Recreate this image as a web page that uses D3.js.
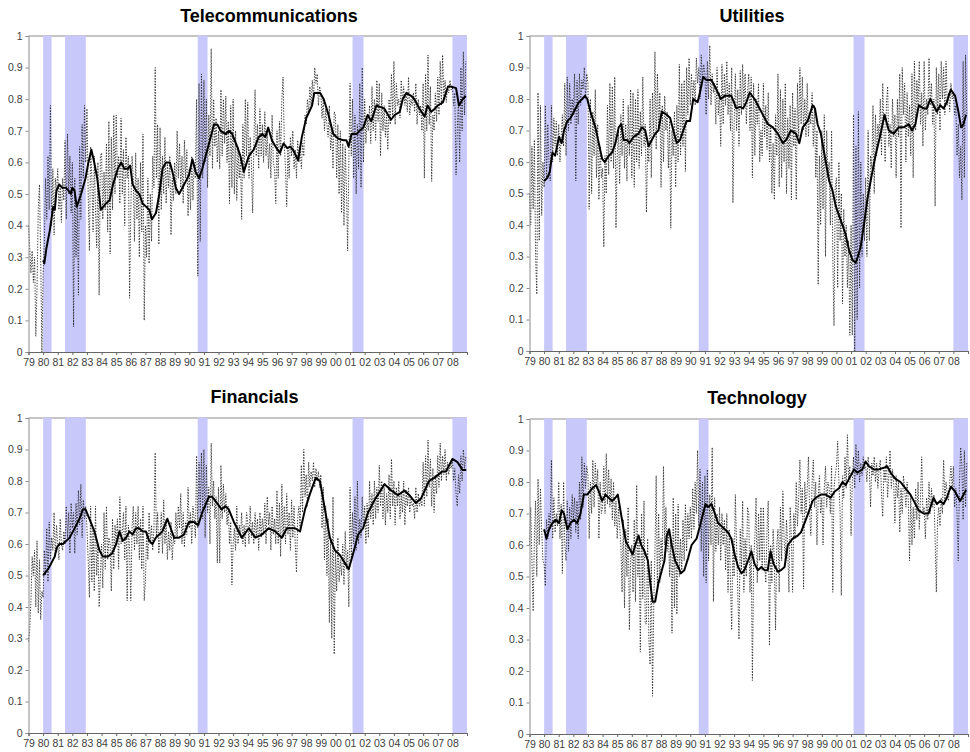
<!DOCTYPE html>
<html lang="en">
<head>
<meta charset="UTF-8">
<title>Sector correlations</title>
<script src="https://d3js.org/d3.v7.min.js"></script>
<style>
  body { margin: 0; background: #fff; }
  text { font-family: "Liberation Sans", Arial, sans-serif; }
</style>
</head>
<body>
<script>
// ---- data ----
const years = d3.range(1979, 2009);            // category years on the x axis
const yTicks = d3.range(0, 11).map(d => d / 10);
const recessions = [[1980.0, 1980.58], [1981.5, 1982.92], [1990.58, 1991.25], [2001.17, 2001.92], [2008.0, 2009.0]];

// monthly values, Jan 1979 .. Dec 2008 (dotted)
const telecomMonthly = [
  0.40,0.33,0.25,0.32,0.22,0.30,0.05,0.20,0.45,0.53,0.30,0.00,
  0.25,0.35,0.55,0.42,0.62,0.45,0.78,0.40,0.58,0.37,0.55,0.50,
  0.58,0.45,0.52,0.41,0.55,0.48,0.67,0.42,0.69,0.50,0.62,0.44,
  0.60,0.08,0.55,0.30,0.47,0.18,0.65,0.42,0.72,0.55,0.78,0.60,
  0.77,0.50,0.32,0.65,0.55,0.38,0.62,0.45,0.33,0.60,0.18,0.62,
  0.63,0.42,0.57,0.45,0.66,0.38,0.73,0.31,0.68,0.45,0.75,0.50,
  0.75,0.55,0.62,0.47,0.74,0.50,0.64,0.40,0.68,0.55,0.62,0.17,
  0.45,0.62,0.55,0.35,0.63,0.42,0.55,0.30,0.60,0.38,0.69,0.10,
  0.40,0.30,0.55,0.28,0.50,0.35,0.62,0.52,0.90,0.55,0.72,0.34,
  0.71,0.45,0.62,0.50,0.68,0.47,0.60,0.52,0.62,0.37,0.55,0.48,
  0.60,0.50,0.70,0.55,0.66,0.52,0.62,0.47,0.67,0.55,0.64,0.43,
  0.58,0.45,0.62,0.48,0.60,0.55,0.80,0.24,0.85,0.35,0.88,0.55,
  0.86,0.60,0.80,0.52,0.75,0.62,0.96,0.58,0.80,0.65,0.74,0.60,
  0.70,0.58,0.83,0.62,0.80,0.66,0.81,0.60,0.73,0.47,0.78,0.52,
  0.80,0.50,0.70,0.48,0.65,0.55,0.62,0.42,0.72,0.55,0.80,0.62,
  0.79,0.55,0.68,0.60,0.44,0.65,0.83,0.62,0.72,0.58,0.77,0.62,
  0.72,0.60,0.76,0.62,0.70,0.58,0.66,0.55,0.75,0.60,0.58,0.47,
  0.70,0.55,0.73,0.62,0.80,0.87,0.66,0.58,0.46,0.65,0.55,0.68,
  0.62,0.70,0.58,0.64,0.55,0.67,0.60,0.65,0.58,0.66,0.62,0.75,
  0.72,0.80,0.75,0.84,0.78,0.86,0.80,0.90,0.85,0.88,0.78,0.84,
  0.82,0.74,0.80,0.70,0.77,0.72,0.68,0.78,0.64,0.70,0.58,0.76,
  0.75,0.55,0.72,0.50,0.70,0.44,0.66,0.40,0.65,0.52,0.32,0.60,
  0.85,0.62,0.80,0.55,0.75,0.50,0.72,0.58,0.85,0.52,0.90,0.60,
  0.80,0.66,0.74,0.70,0.78,0.66,0.84,0.70,0.80,0.67,0.86,0.73,
  0.85,0.62,0.82,0.70,0.78,0.68,0.75,0.64,0.80,0.72,0.88,0.74,
  0.92,0.72,0.85,0.78,0.80,0.74,0.86,0.79,0.84,0.78,0.82,0.76,
  0.87,0.75,0.80,0.78,0.82,0.76,0.85,0.72,0.80,0.75,0.78,0.70,
  0.85,0.55,0.88,0.70,0.94,0.72,0.84,0.54,0.75,0.70,0.82,0.73,
  0.87,0.75,0.92,0.78,0.94,0.80,0.86,0.79,0.84,0.82,0.86,0.83,
  0.84,0.78,0.82,0.56,0.70,0.80,0.60,0.90,0.70,0.95,0.75,0.92
];
const utilitiesMonthly = [
  0.50,0.40,0.65,0.45,0.67,0.30,0.18,0.82,0.35,0.78,0.43,0.60,
  0.52,0.78,0.55,0.72,0.60,0.54,0.78,0.60,0.74,0.65,0.73,0.62,
  0.72,0.60,0.68,0.75,0.65,0.85,0.62,0.87,0.70,0.85,0.72,0.80,
  0.75,0.88,0.54,0.86,0.72,0.88,0.78,0.86,0.83,0.90,0.80,0.88,
  0.85,0.45,0.80,0.50,0.76,0.62,0.83,0.55,0.72,0.48,0.65,0.55,
  0.58,0.33,0.62,0.50,0.78,0.56,0.85,0.60,0.84,0.58,0.87,0.39,
  0.62,0.70,0.53,0.75,0.62,0.80,0.58,0.72,0.54,0.78,0.62,0.83,
  0.55,0.82,0.52,0.80,0.60,0.83,0.58,0.76,0.62,0.87,0.65,0.72,
  0.44,0.65,0.60,0.80,0.55,0.82,0.68,0.95,0.64,0.88,0.70,0.82,
  0.52,0.78,0.60,0.81,0.70,0.76,0.58,0.73,0.39,0.70,0.62,0.76,
  0.52,0.78,0.60,0.91,0.62,0.85,0.65,0.86,0.57,0.90,0.75,0.93,
  0.78,0.88,0.80,0.86,0.78,0.93,0.85,0.90,0.80,0.94,0.86,0.91,
  0.88,0.75,0.92,0.80,0.97,0.78,0.88,0.82,0.85,0.72,0.90,0.75,
  0.82,0.65,0.91,0.72,0.88,0.78,0.92,0.75,0.85,0.70,0.90,0.47,
  0.72,0.88,0.70,0.83,0.65,0.89,0.75,0.91,0.78,0.88,0.72,0.82,
  0.88,0.70,0.87,0.55,0.85,0.62,0.80,0.72,0.85,0.60,0.70,0.62,
  0.85,0.68,0.78,0.64,0.82,0.60,0.72,0.50,0.66,0.48,0.75,0.62,
  0.88,0.52,0.83,0.55,0.80,0.60,0.85,0.50,0.74,0.58,0.78,0.48,
  0.82,0.65,0.77,0.48,0.85,0.68,0.90,0.72,0.87,0.70,0.80,0.68,
  0.85,0.68,0.75,0.72,0.82,0.65,0.78,0.55,0.70,0.21,0.62,0.40,
  0.70,0.45,0.75,0.30,0.70,0.55,0.60,0.40,0.70,0.30,0.08,0.52,
  0.55,0.20,0.60,0.35,0.50,0.15,0.45,0.30,0.40,0.20,0.35,0.05,
  0.40,0.05,0.75,0.00,0.65,0.10,0.76,0.20,0.60,0.30,0.50,0.35,
  0.55,0.30,0.70,0.35,0.62,0.58,0.78,0.50,0.75,0.62,0.72,0.68,
  0.80,0.62,0.85,0.70,0.60,0.78,0.84,0.65,0.72,0.58,0.80,0.68,
  0.75,0.55,0.80,0.68,0.88,0.39,0.90,0.75,0.85,0.60,0.82,0.68,
  0.78,0.62,0.88,0.55,0.92,0.70,0.86,0.78,0.92,0.72,0.82,0.65,
  0.92,0.70,0.80,0.75,0.93,0.78,0.85,0.72,0.80,0.46,0.90,0.75,
  0.88,0.70,0.92,0.80,0.90,0.75,0.92,0.78,0.82,0.76,0.85,0.80,
  0.82,0.75,0.78,0.62,0.72,0.55,0.65,0.48,0.92,0.55,0.94,0.75
];
const financialsMonthly = [
  0.29,0.33,0.42,0.56,0.50,0.58,0.40,0.61,0.38,0.55,0.36,0.45,
  0.43,0.58,0.50,0.65,0.48,0.67,0.55,0.62,0.58,0.70,0.56,0.66,
  0.60,0.55,0.68,0.60,0.58,0.64,0.60,0.72,0.62,0.70,0.57,0.73,
  0.65,0.70,0.57,0.73,0.63,0.77,0.66,0.79,0.62,0.74,0.68,0.72,
  0.65,0.55,0.43,0.72,0.48,0.65,0.45,0.72,0.50,0.60,0.40,0.50,
  0.60,0.46,0.70,0.52,0.72,0.55,0.62,0.60,0.45,0.68,0.52,0.66,
  0.60,0.68,0.52,0.75,0.60,0.64,0.70,0.55,0.72,0.42,0.66,0.58,
  0.42,0.65,0.72,0.58,0.70,0.60,0.72,0.55,0.68,0.52,0.72,0.42,
  0.48,0.64,0.55,0.70,0.60,0.66,0.58,0.65,0.89,0.62,0.70,0.57,
  0.62,0.70,0.57,0.74,0.60,0.68,0.55,0.64,0.58,0.67,0.55,0.62,
  0.60,0.70,0.62,0.72,0.65,0.76,0.60,0.70,0.59,0.67,0.63,0.78,
  0.65,0.70,0.60,0.72,0.68,0.62,0.88,0.65,0.86,0.70,0.89,0.68,
  0.90,0.62,0.85,0.70,0.78,0.60,0.92,0.72,0.80,0.68,0.75,0.54,
  0.78,0.54,0.85,0.68,0.79,0.70,0.76,0.66,0.72,0.60,0.67,0.47,
  0.60,0.65,0.58,0.72,0.60,0.66,0.62,0.70,0.60,0.66,0.59,0.70,
  0.67,0.60,0.72,0.62,0.67,0.60,0.70,0.62,0.68,0.58,0.70,0.62,
  0.68,0.63,0.73,0.60,0.75,0.66,0.70,0.58,0.72,0.63,0.68,0.60,
  0.77,0.60,0.73,0.56,0.79,0.62,0.72,0.60,0.76,0.63,0.70,0.58,
  0.74,0.62,0.72,0.60,0.51,0.68,0.72,0.65,0.85,0.70,0.90,0.75,
  0.82,0.72,0.86,0.78,0.83,0.80,0.86,0.78,0.84,0.80,0.83,0.78,
  0.82,0.65,0.78,0.55,0.72,0.50,0.68,0.35,0.62,0.30,0.75,0.25,
  0.58,0.45,0.62,0.48,0.55,0.50,0.60,0.47,0.64,0.52,0.58,0.40,
  0.78,0.55,0.70,0.60,0.75,0.58,0.80,0.60,0.68,0.62,0.75,0.65,
  0.72,0.60,0.73,0.62,0.80,0.68,0.76,0.66,0.80,0.68,0.78,0.70,
  0.85,0.72,0.80,0.68,0.78,0.66,0.76,0.70,0.82,0.68,0.87,0.72,
  0.80,0.66,0.78,0.72,0.80,0.68,0.76,0.70,0.80,0.66,0.77,0.72,
  0.78,0.70,0.75,0.72,0.73,0.68,0.78,0.70,0.76,0.72,0.74,0.72,
  0.86,0.72,0.88,0.75,0.93,0.78,0.87,0.72,0.84,0.70,0.82,0.76,
  0.88,0.78,0.92,0.80,0.88,0.82,0.90,0.80,0.86,0.82,0.85,0.84,
  0.87,0.80,0.84,0.76,0.72,0.82,0.76,0.88,0.80,0.90,0.84,0.88
];
const technologyMonthly = [
  0.60,0.72,0.55,0.39,0.62,0.74,0.50,0.81,0.60,0.78,0.65,0.55,
  0.54,0.47,0.68,0.62,0.70,0.65,0.87,0.62,0.75,0.64,0.70,0.66,
  0.80,0.62,0.73,0.51,0.80,0.60,0.55,0.74,0.58,0.72,0.62,0.76,
  0.68,0.75,0.64,0.74,0.62,0.80,0.68,0.88,0.72,0.86,0.78,0.85,
  0.82,0.62,0.80,0.70,0.87,0.72,0.86,0.78,0.84,0.62,0.80,0.70,
  0.72,0.85,0.70,0.89,0.73,0.84,0.72,0.81,0.68,0.80,0.66,0.74,
  0.62,0.72,0.66,0.60,0.45,0.68,0.40,0.65,0.50,0.72,0.33,0.55,
  0.60,0.45,0.68,0.42,0.79,0.50,0.62,0.26,0.70,0.43,0.74,0.35,
  0.35,0.62,0.30,0.22,0.55,0.12,0.40,0.58,0.82,0.45,0.70,0.48,
  0.62,0.55,0.85,0.60,0.72,0.58,0.65,0.50,0.62,0.32,0.75,0.40,
  0.70,0.38,0.73,0.50,0.62,0.52,0.68,0.55,0.73,0.58,0.70,0.62,
  0.72,0.62,0.78,0.65,0.80,0.70,0.90,0.66,0.84,0.58,0.80,0.50,
  0.82,0.48,0.84,0.55,0.76,0.60,0.91,0.42,0.75,0.58,0.70,0.60,
  0.72,0.55,0.70,0.60,0.68,0.52,0.70,0.45,0.65,0.48,0.33,0.62,
  0.50,0.76,0.60,0.45,0.30,0.65,0.52,0.74,0.45,0.62,0.50,0.72,
  0.70,0.45,0.60,0.17,0.55,0.62,0.75,0.48,0.70,0.55,0.72,0.52,
  0.72,0.55,0.48,0.65,0.74,0.28,0.60,0.48,0.65,0.55,0.33,0.60,
  0.65,0.45,0.72,0.55,0.77,0.62,0.55,0.68,0.58,0.45,0.72,0.62,
  0.45,0.70,0.62,0.80,0.66,0.75,0.87,0.70,0.78,0.46,0.80,0.70,
  0.78,0.88,0.70,0.63,0.80,0.87,0.72,0.80,0.60,0.75,0.82,0.70,
  0.75,0.60,0.78,0.85,0.72,0.80,0.78,0.70,0.85,0.45,0.78,0.82,
  0.85,0.93,0.80,0.70,0.44,0.82,0.75,0.88,0.78,0.95,0.80,0.85,
  0.63,0.80,0.88,0.78,0.92,0.82,0.90,0.80,0.86,0.82,0.88,0.84,
  0.85,0.80,0.88,0.84,0.72,0.86,0.82,0.88,0.80,0.86,0.78,0.84,
  0.87,0.76,0.69,0.84,0.80,0.88,0.75,0.82,0.90,0.78,0.84,0.80,
  0.67,0.82,0.75,0.80,0.64,0.78,0.70,0.82,0.78,0.72,0.80,0.74,
  0.55,0.76,0.60,0.72,0.62,0.78,0.68,0.80,0.65,0.75,0.88,0.70,
  0.72,0.62,0.75,0.68,0.80,0.70,0.78,0.72,0.76,0.62,0.45,0.68,
  0.72,0.66,0.75,0.70,0.87,0.74,0.80,0.76,0.74,0.80,0.85,0.78,
  0.85,0.72,0.78,0.70,0.55,0.80,0.91,0.85,0.68,0.90,0.72,0.86
];

// smoothed series, [year, value] (solid)
const telecomSmooth = [
  [1980.0,0.29],[1980.08,0.28],[1980.23,0.33],[1980.46,0.385],[1980.69,0.46],[1980.8,0.45],[1980.91,0.51],
  [1981.1,0.53],[1981.3,0.52],[1981.55,0.52],[1981.75,0.51],[1981.9,0.50],[1982.0,0.52],[1982.15,0.51],
  [1982.3,0.46],[1982.6,0.50],[1982.9,0.55],[1983.1,0.60],[1983.3,0.64],[1983.5,0.60],[1983.7,0.55],
  [1983.95,0.45],[1984.3,0.47],[1984.55,0.48],[1984.78,0.53],[1985.11,0.58],[1985.34,0.60],[1985.56,0.58],
  [1985.79,0.58],[1985.95,0.59],[1986.13,0.53],[1986.36,0.51],[1986.58,0.50],[1986.81,0.47],[1987.04,0.46],
  [1987.26,0.45],[1987.45,0.42],[1987.72,0.44],[1987.95,0.50],[1988.17,0.58],[1988.4,0.60],[1988.67,0.60],
  [1988.85,0.57],[1989.08,0.52],[1989.3,0.50],[1989.53,0.52],[1989.76,0.54],[1989.98,0.56],[1990.21,0.61],
  [1990.44,0.57],[1990.67,0.55],[1990.89,0.58],[1991.12,0.62],[1991.35,0.66],[1991.69,0.72],[1991.92,0.72],
  [1992.14,0.70],[1992.48,0.69],[1992.71,0.70],[1992.93,0.69],[1993.28,0.65],[1993.5,0.62],[1993.73,0.57],
  [1994.07,0.62],[1994.4,0.64],[1994.75,0.68],[1995.0,0.69],[1995.2,0.68],[1995.4,0.71],[1995.65,0.67],
  [1995.9,0.65],[1996.2,0.63],[1996.45,0.66],[1996.7,0.645],[1996.9,0.65],[1997.1,0.64],[1997.45,0.607],
  [1997.7,0.68],[1998.0,0.74],[1998.4,0.78],[1998.55,0.82],[1998.95,0.82],[1999.2,0.80],[1999.5,0.755],
  [1999.85,0.69],[2000.2,0.675],[2000.55,0.67],[2000.75,0.67],[2000.9,0.65],[2001.1,0.69],[2001.45,0.69],
  [2001.65,0.70],[2001.9,0.71],[2002.2,0.75],[2002.45,0.73],[2002.8,0.78],[2003.1,0.775],[2003.35,0.77],
  [2003.6,0.75],[2003.8,0.735],[2004.05,0.75],[2004.4,0.76],[2004.6,0.80],[2004.85,0.82],[2005.2,0.81],
  [2005.4,0.80],[2005.75,0.77],[2006.1,0.745],[2006.3,0.78],[2006.55,0.76],[2006.8,0.77],[2007.0,0.78],
  [2007.35,0.79],[2007.7,0.84],[2007.9,0.84],[2008.25,0.835],[2008.45,0.78],[2008.7,0.80],[2008.92,0.81]
];
const utilitiesSmooth = [
  [1980.0,0.54],[1980.23,0.55],[1980.39,0.57],[1980.57,0.63],[1980.75,0.62],[1981.02,0.68],[1981.2,0.66],
  [1981.36,0.70],[1981.59,0.73],[1981.81,0.74],[1981.93,0.75],[1982.15,0.77],[1982.38,0.79],[1982.61,0.80],
  [1982.79,0.81],[1982.95,0.80],[1983.17,0.76],[1983.51,0.71],[1983.74,0.66],[1983.97,0.61],[1984.15,0.60],
  [1984.42,0.62],[1984.65,0.63],[1984.88,0.66],[1985.1,0.71],[1985.28,0.72],[1985.44,0.67],[1985.67,0.67],
  [1985.83,0.66],[1986.12,0.68],[1986.46,0.69],[1986.69,0.71],[1986.92,0.70],[1987.14,0.65],[1987.37,0.67],
  [1987.6,0.69],[1987.82,0.70],[1988.05,0.76],[1988.39,0.75],[1988.62,0.74],[1988.84,0.70],[1989.07,0.66],
  [1989.3,0.67],[1989.52,0.70],[1989.75,0.73],[1989.98,0.73],[1990.2,0.80],[1990.5,0.79],[1990.66,0.82],
  [1990.88,0.87],[1991.11,0.86],[1991.45,0.86],[1991.79,0.83],[1992.09,0.80],[1992.36,0.81],[1992.81,0.81],
  [1993.15,0.77],[1993.4,0.775],[1993.61,0.77],[1993.84,0.79],[1994.06,0.82],[1994.4,0.80],[1994.74,0.77],
  [1995.08,0.74],[1995.31,0.72],[1995.65,0.71],[1995.99,0.69],[1996.33,0.66],[1996.55,0.67],[1996.89,0.70],
  [1997.23,0.69],[1997.46,0.66],[1997.69,0.71],[1998.03,0.73],[1998.37,0.78],[1998.53,0.77],[1998.71,0.72],
  [1998.93,0.69],[1999.27,0.60],[1999.5,0.54],[1999.73,0.51],[1999.95,0.46],[2000.18,0.43],[2000.41,0.40],
  [2000.63,0.37],[2000.86,0.32],[2001.09,0.29],[2001.31,0.28],[2001.47,0.30],[2001.65,0.33],[2001.88,0.40],
  [2002.11,0.48],[2002.38,0.55],[2002.67,0.62],[2003.02,0.69],[2003.29,0.75],[2003.58,0.70],[2003.92,0.69],
  [2004.26,0.71],[2004.6,0.71],[2004.95,0.72],[2005.17,0.70],[2005.4,0.72],[2005.63,0.78],[2005.96,0.77],
  [2006.19,0.77],[2006.42,0.80],[2006.64,0.78],[2006.87,0.76],[2007.1,0.78],[2007.33,0.77],[2007.55,0.79],
  [2007.82,0.83],[2008.12,0.81],[2008.34,0.76],[2008.53,0.71],[2008.69,0.72],[2008.87,0.75]
];
const financialsSmooth = [
  [1980.0,0.50],[1980.16,0.51],[1980.34,0.52],[1980.57,0.54],[1980.79,0.56],[1980.95,0.59],[1981.13,0.60],
  [1981.36,0.60],[1981.59,0.61],[1981.81,0.62],[1982.04,0.64],[1982.27,0.66],[1982.49,0.68],[1982.72,0.71],
  [1982.9,0.71],[1983.17,0.68],[1983.51,0.64],[1983.85,0.58],[1984.08,0.56],[1984.42,0.56],[1984.72,0.57],
  [1985.0,0.60],[1985.22,0.64],[1985.45,0.61],[1985.68,0.62],[1985.9,0.64],[1986.12,0.63],[1986.35,0.65],
  [1986.58,0.65],[1986.8,0.64],[1987.03,0.64],[1987.26,0.61],[1987.48,0.60],[1987.71,0.62],[1987.94,0.63],
  [1988.16,0.64],[1988.5,0.68],[1988.73,0.65],[1988.96,0.62],[1989.3,0.62],[1989.63,0.63],[1989.98,0.67],
  [1990.32,0.67],[1990.61,0.66],[1990.88,0.70],[1991.16,0.73],[1991.34,0.75],[1991.56,0.75],[1991.9,0.73],
  [1992.2,0.71],[1992.47,0.72],[1992.7,0.71],[1993.05,0.67],[1993.6,0.62],[1994.07,0.65],[1994.52,0.62],
  [1994.97,0.63],[1995.43,0.65],[1995.88,0.64],[1996.33,0.62],[1996.67,0.65],[1997.24,0.65],[1997.58,0.64],
  [1997.92,0.71],[1998.26,0.76],[1998.65,0.81],[1998.94,0.80],[1999.28,0.71],[1999.62,0.62],[1999.96,0.58],
  [2000.3,0.565],[2000.64,0.54],[2000.91,0.52],[2001.21,0.57],[2001.55,0.63],[2001.89,0.65],[2002.23,0.70],
  [2002.68,0.74],[2003.36,0.79],[2003.82,0.77],[2004.27,0.755],[2004.72,0.77],[2005.06,0.755],[2005.5,0.73],
  [2005.86,0.745],[2006.4,0.80],[2006.76,0.81],[2007.3,0.83],[2007.56,0.83],[2008.0,0.87],[2008.35,0.86],
  [2008.69,0.835],[2008.95,0.835]
];
const technologySmooth = [
  [1980.0,0.65],[1980.16,0.62],[1980.34,0.65],[1980.57,0.67],[1980.79,0.68],[1981.02,0.67],[1981.2,0.71],
  [1981.36,0.70],[1981.59,0.65],[1981.81,0.67],[1982.04,0.68],[1982.27,0.67],[1982.49,0.70],[1982.72,0.76],
  [1982.95,0.76],[1983.29,0.78],[1983.56,0.79],[1983.74,0.77],[1983.97,0.74],[1984.2,0.76],[1984.42,0.75],
  [1984.65,0.74],[1984.88,0.75],[1985.04,0.76],[1985.22,0.71],[1985.44,0.65],[1985.6,0.61],[1985.83,0.59],
  [1986.05,0.57],[1986.24,0.60],[1986.46,0.63],[1986.64,0.60],[1986.87,0.58],[1987.1,0.55],[1987.26,0.48],
  [1987.42,0.42],[1987.6,0.42],[1987.82,0.48],[1988.0,0.51],[1988.23,0.55],[1988.39,0.63],[1988.55,0.65],
  [1988.73,0.60],[1988.96,0.55],[1989.18,0.53],[1989.36,0.51],[1989.59,0.52],[1989.86,0.56],[1990.09,0.60],
  [1990.43,0.62],[1990.66,0.66],[1990.88,0.70],[1991.04,0.73],[1991.2,0.72],[1991.45,0.73],[1991.68,0.70],
  [1991.9,0.67],[1992.13,0.66],[1992.36,0.65],[1992.59,0.64],[1992.81,0.62],[1993.04,0.57],[1993.27,0.53],
  [1993.5,0.51],[1993.7,0.52],[1993.95,0.55],[1994.18,0.58],[1994.4,0.54],[1994.63,0.52],[1994.86,0.53],
  [1995.09,0.52],[1995.3,0.52],[1995.49,0.58],[1995.7,0.54],[1996.0,0.515],[1996.2,0.52],[1996.45,0.53],
  [1996.67,0.60],[1997.0,0.62],[1997.35,0.63],[1997.57,0.64],[1997.9,0.68],[1998.14,0.71],[1998.37,0.74],
  [1998.59,0.75],[1998.93,0.76],[1999.27,0.76],[1999.6,0.75],[1999.88,0.77],[2000.18,0.78],[2000.41,0.80],
  [2000.63,0.79],[2000.86,0.81],[2001.2,0.84],[2001.43,0.83],[2001.77,0.84],[2001.99,0.865],[2002.22,0.85],
  [2002.56,0.84],[2002.9,0.84],[2003.24,0.845],[2003.47,0.85],[2003.7,0.83],[2004.04,0.81],[2004.38,0.80],
  [2004.72,0.78],[2005.06,0.76],[2005.29,0.74],[2005.63,0.71],[2005.96,0.70],[2006.3,0.70],[2006.64,0.75],
  [2006.87,0.73],[2007.1,0.74],[2007.33,0.73],[2007.55,0.75],[2007.82,0.785],[2008.11,0.77],[2008.46,0.74],
  [2008.7,0.76],[2008.87,0.775]
];

// ---- layout ----
const width = 970, height = 752;
const panels = [
  { title: 'Telecommunications', monthly: telecomMonthly, smooth: telecomSmooth,
    left: 28.5, right: 467, top: 36, bottom: 352, titleX: 269, titleY: 22 },
  { title: 'Utilities', monthly: utilitiesMonthly, smooth: utilitiesSmooth,
    left: 529.5, right: 968, top: 36, bottom: 351, titleX: 752, titleY: 22 },
  { title: 'Financials', monthly: financialsMonthly, smooth: financialsSmooth,
    left: 28.5, right: 467, top: 418, bottom: 733, titleX: 254.5, titleY: 403 },
  { title: 'Technology', monthly: technologyMonthly, smooth: technologySmooth,
    left: 529.5, right: 968, top: 419, bottom: 734, titleX: 757, titleY: 404 }
];

const svg = d3.select('body').append('svg').attr('width', width).attr('height', height);

panels.forEach(p => {
  const x = d3.scaleLinear().domain([1979, 2009]).range([p.left, p.right]);
  const y = d3.scaleLinear().domain([0, 1]).range([p.bottom, p.top]);
  const g = svg.append('g');

  // top border
  g.append('line')
    .attr('x1', p.left).attr('x2', p.right)
    .attr('y1', y(1)).attr('y2', y(1))
    .style('stroke', '#8c8c8c').style('stroke-width', 1);

  // recession shading
  g.selectAll('rect.rec')
    .data(recessions)
    .join('rect')
    .attr('class', 'rec')
    .attr('x', d => x(d[0]))
    .attr('width', d => x(d[1]) - x(d[0]))
    .attr('y', y(1) - 0.5)
    .attr('height', y(0) - y(1) + 0.5)
    .style('fill', '#c8c8fa');

  // monthly (dotted)
  const monthLine = d3.line()
    .x((d, i) => x(1979 + i / 12))
    .y(d => y(d));
  g.append('path')
    .datum(p.monthly)
    .attr('d', monthLine)
    .style('fill', 'none')
    .style('stroke', '#222')
    .style('stroke-width', 0.9)
    .style('stroke-dasharray', '1.3,1.5');

  // smoothed (solid)
  const smoothLine = d3.line()
    .x(d => x(d[0]))
    .y(d => y(d[1]));
  g.append('path')
    .datum(p.smooth)
    .attr('d', smoothLine)
    .style('fill', 'none')
    .style('stroke', '#000')
    .style('stroke-width', 2)
    .style('stroke-linejoin', 'round');

  // y axis
  const yAxis = g.append('g')
    .attr('transform', `translate(${p.left},0)`)
    .call(d3.axisLeft(y).tickValues(yTicks).tickSize(3).tickPadding(3)
      .tickFormat(d3.format('~g')));
  yAxis.select('.domain').style('stroke', '#8c8c8c');
  yAxis.selectAll('.tick line').style('stroke', '#8c8c8c');
  yAxis.selectAll('text').style('font-size', '10.5px').style('fill', '#404040')
    .style('font-family', '"Liberation Sans", Arial, sans-serif');

  // x axis
  const xAxis = g.append('g')
    .attr('transform', `translate(0,${p.bottom})`)
    .call(d3.axisBottom(x).tickValues(years.concat([2009])).tickSize(3).tickPadding(4)
      .tickFormat(d => d === 2009 ? '' : String(d).slice(2)));
  xAxis.select('.domain').style('stroke', '#666');
  xAxis.selectAll('.tick line').style('stroke', '#666');
  xAxis.selectAll('text').style('font-size', '10.5px').style('fill', '#404040')
    .style('font-family', '"Liberation Sans", Arial, sans-serif');

  // title
  g.append('text')
    .attr('x', p.titleX).attr('y', p.titleY)
    .attr('text-anchor', 'middle')
    .style('font-size', '18px')
    .style('font-weight', 'bold')
    .style('fill', '#000')
    .text(p.title);
});
</script>
</body>
</html>
